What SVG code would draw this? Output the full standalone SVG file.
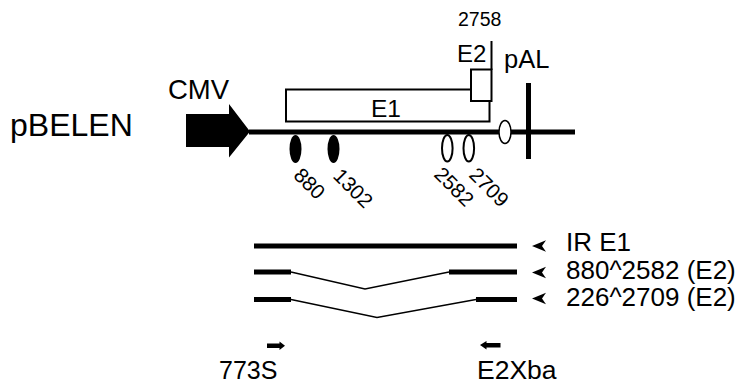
<svg xmlns="http://www.w3.org/2000/svg" width="741" height="388" viewBox="0 0 741 388">
<style>
text{font-family:"Liberation Sans",Arial,sans-serif;fill:#000}
.thick{stroke:#000;stroke-width:5;fill:none}
.thin{stroke:#000;stroke-width:1.3;fill:none}
.box{stroke:#000;stroke-width:2;fill:#fff}
</style>
<defs>
<path id="ah" d="M0,0 L14,-5.8 L10,0 L14,5.8 Z" fill="#000"/>
</defs>
<rect width="741" height="388" fill="#fff"/>
<g id="label-pBELEN"><text x="10" y="136" font-size="32">pBELEN</text></g>
<g id="cmv">
<path d="M186,114 H229 V104 L250,131.5 L229,157.5 V147 H186 Z" fill="#000"/>
<text x="168" y="98.5" font-size="27.5">CMV</text>
</g>
<g id="connectors">
<line class="thick" x1="249" y1="132" x2="575" y2="132"/>
<line class="thick" x1="254" y1="246" x2="517" y2="246"/>
<line class="thick" x1="254" y1="272" x2="291" y2="272"/>
<line class="thick" x1="449" y1="272" x2="517" y2="272"/>
<polyline class="thin" points="291,272 365,289 449,272"/>
<line class="thick" x1="254" y1="299.5" x2="291" y2="299.5"/>
<line class="thick" x1="476" y1="299.5" x2="517" y2="299.5"/>
<polyline class="thin" points="291,299.5 377,317.5 476,299.5"/>
</g>
<g id="e1">
<path class="box" d="M471,89.5 H286 V121.5 H489.5 V101"/>
<text x="386" y="116.5" font-size="24.5" text-anchor="middle">E1</text>
</g>
<g id="e2">
<rect class="box" x="471" y="69.5" width="20.5" height="31.5"/>
<line x1="491.5" y1="41" x2="491.5" y2="70" stroke="#000" stroke-width="2"/>
<text x="457" y="62" font-size="24">E2</text>
<text x="458" y="26" font-size="19.5">2758</text>
</g>
<g id="pal">
<ellipse cx="505" cy="132" rx="6" ry="11.5" fill="#fff" stroke="#000" stroke-width="1.5"/>
<line x1="528.5" y1="83" x2="528.5" y2="159" stroke="#000" stroke-width="5"/>
<text x="504" y="68" font-size="25.5">pAL</text>
</g>
<g id="site-880">
<ellipse cx="295.5" cy="149" rx="6" ry="14" fill="#000"/>
<text transform="translate(292.5,176.5) rotate(45)" font-size="20.5">880</text>
</g>
<g id="site-1302">
<ellipse cx="333.5" cy="149" rx="6" ry="14" fill="#000"/>
<text transform="translate(332,177) rotate(45)" font-size="20.5">1302</text>
</g>
<g id="site-2582">
<ellipse cx="447.3" cy="148.3" rx="5.3" ry="13.3" fill="#fff" stroke="#000" stroke-width="2"/>
<text transform="translate(433,175.5) rotate(45)" font-size="20.5">2582</text>
</g>
<g id="site-2709">
<ellipse cx="468.8" cy="148.3" rx="5.3" ry="13.3" fill="#fff" stroke="#000" stroke-width="2"/>
<text transform="translate(468,176) rotate(45)" font-size="20.5">2709</text>
</g>
<g id="row-IR">
<use href="#ah" x="532" y="246"/>
<text x="566" y="251" font-size="26">IR E1</text>
</g>
<g id="row-880">
<use href="#ah" x="532" y="272.5"/>
<text x="566" y="278.5" font-size="26">880^2582 (E2)</text>
</g>
<g id="row-226">
<use href="#ah" x="532" y="298.5"/>
<text x="566" y="306" font-size="26">226^2709 (E2)</text>
</g>
<g id="primer-773S">
<path d="M267,343.5 H279.5 V341.5 L285,345.8 L279.5,350 V348 H267 Z" fill="#000"/>
<text x="219" y="378.5" font-size="25">773S</text>
</g>
<g id="primer-E2Xba">
<path d="M500.5,343 H486.5 V341 L480,345 L486.5,349.5 V347.5 H500.5 Z" fill="#000"/>
<text x="477" y="378.5" font-size="26.5">E2Xba</text>
</g>
</svg>
